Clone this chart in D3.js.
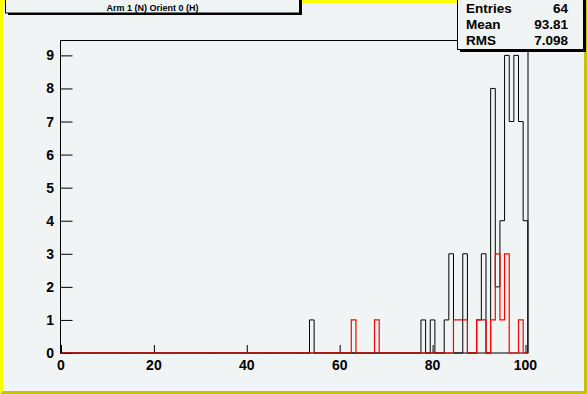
<!DOCTYPE html>
<html>
  <head>
    <title>arm 1 orient 0</title>
    <meta charset="UTF-8" />
    <script src="https://d3js.org/d3.v7.min.js"></script>
    <style>
        body { margin: 0; }
        text { font-family: "Liberation Sans", Arial, sans-serif; font-weight: bold; }
    </style>
  </head>
  <body>
    <script>
        // bins are 1 wide, centred on the integer value
        var blackBins   = [54, 78, 80, 83, 84, 87, 90, 91, 93, 94, 95, 96, 97, 98, 99, 100];
        var blackCounts = [ 1,  1,  1,  1,  3,  3,  1,  3,  8,  2,  4,  9,  7,  9,  7,   4];
        var redBins     = [63, 68, 85, 86, 87, 90, 91, 93, 94, 95, 96, 99];
        var redCounts   = [ 1,  1,  1,  1,  1,  1,  1,  1,  3,  1,  3,  1];
        var xTicks = [0, 20, 40, 60, 80, 100];
        var yTicks = [0, 1, 2, 3, 4, 5, 6, 7, 8, 9];
        var title = "Arm 1 (N) Orient 0 (H)";
        var statNames  = ["Entries", "Mean", "RMS"];
        var statValues = ["64", "93.81", "7.098"];

        var W = 587, H = 394;
        var svg = d3.select("body").append("svg")
            .attr("width", W)
            .attr("height", H);

        // canvas with bevelled yellow border
        svg.append("rect").attr("width", W).attr("height", H).attr("fill", "#f0f4f5");
        var bw = 3;
        svg.append("polygon")
            .attr("points", [[0,0],[W,0],[W-bw,bw],[bw,bw],[bw,H-bw],[0,H]].join(" "))
            .attr("fill", "#ffff00");
        svg.append("polygon")
            .attr("points", [[W,0],[W,H],[0,H],[bw,H-bw],[W-bw,H-bw],[W-bw,bw]].join(" "))
            .attr("fill", "#c4c400");

        var margin = {left: 60.5, top: 40.5, right: 528, bottom: 353};

        var x = d3.scaleLinear().domain([0, 100.5]).range([61, 527.8]);
        var y = d3.scaleLinear().domain([0, 9.45]).range([margin.bottom, margin.top]);

        // frame
        svg.append("rect")
            .attr("x", margin.left).attr("y", margin.top)
            .attr("width", margin.right - margin.left)
            .attr("height", margin.bottom - margin.top)
            .attr("fill", "none").attr("stroke", "#000").attr("stroke-width", 1);

        // y axis ticks (inside the frame)
        var gy = svg.append("g").attr("transform", "translate(" + margin.left + ",0)");
        gy.call(d3.axisRight(y).tickValues(d3.range(0, 9.45, 0.2)).tickSize(6).tickFormat(""));
        gy.call(d3.axisRight(y).tickValues(yTicks).tickSize(12).tickFormat(""));
        gy.selectAll(".domain").remove();
        gy.selectAll("line").attr("stroke", "#000");
        svg.append("g").selectAll("text").data(yTicks).enter().append("text")
            .attr("x", 54).attr("y", d => y(d) + 5)
            .attr("text-anchor", "end").attr("font-size", 14)
            .text(d => d);

        // x axis ticks (inside the frame)
        var gx = svg.append("g").attr("transform", "translate(0," + margin.bottom + ")");
        gx.call(d3.axisTop(x).tickValues(d3.range(0, 101, 5)).tickSize(4).tickFormat(""));
        gx.call(d3.axisTop(x).tickValues(xTicks).tickSize(8).tickFormat(""));
        gx.selectAll(".domain").remove();
        gx.selectAll("line").attr("stroke", "#000");
        svg.append("g").selectAll("text").data(xTicks).enter().append("text")
            .attr("x", d => x(d)).attr("y", 369.5)
            .attr("text-anchor", "middle").attr("font-size", 14)
            .text(d => d);

        // step outline of a histogram
        function histPoints(bins, counts) {
            var pts = [[0, 0]];
            d3.range(0, 101).forEach(function(c) {
                var i = bins.indexOf(c);
                var n = i < 0 ? 0 : counts[i];
                var lo = Math.max(0, c - 0.5), hi = Math.min(100.5, c + 0.5);
                pts.push([lo, n], [hi, n]);
            });
            pts.push([100.5, 0]);
            return pts;
        }
        var line = d3.line().x(d => x(d[0])).y(d => y(d[1]));

        svg.append("path")
            .attr("d", line(histPoints(blackBins, blackCounts)))
            .attr("fill", "none").attr("stroke", "#000").attr("stroke-width", 1);
        svg.append("path")
            .attr("d", line(histPoints(redBins, redCounts)))
            .attr("fill", "none").attr("stroke", "#ff0000").attr("stroke-width", 1.2);

        // title pave
        svg.append("rect").attr("x", 8).attr("y", -6).attr("width", 294).attr("height", 21).attr("fill", "#000");
        svg.append("rect").attr("x", 5.5).attr("y", -6).attr("width", 294).attr("height", 19)
            .attr("fill", "#f0f4f5").attr("stroke", "#000");
        svg.append("text").attr("x", 152.5).attr("y", 10.5)
            .attr("text-anchor", "middle").attr("font-size", 9)
            .text(title);

        // stats box
        svg.append("rect").attr("x", 460).attr("y", -6).attr("width", 126).attr("height", 58).attr("fill", "#000");
        svg.append("rect").attr("x", 457.5).attr("y", -6).attr("width", 126).attr("height", 55.5)
            .attr("fill", "#f0f4f5").attr("stroke", "#000");
        var sg = svg.append("g");
        sg.selectAll("text.n").data(statNames).enter().append("text")
            .attr("x", 466).attr("y", (d, i) => 13 + i * 16)
            .attr("font-size", 13.5).text(d => d);
        sg.selectAll("text.v").data(statValues).enter().append("text")
            .attr("x", 568).attr("y", (d, i) => 13 + i * 16)
            .attr("text-anchor", "end").attr("font-size", 13.5).text(d => d);
    </script>
  </body>
</html>
